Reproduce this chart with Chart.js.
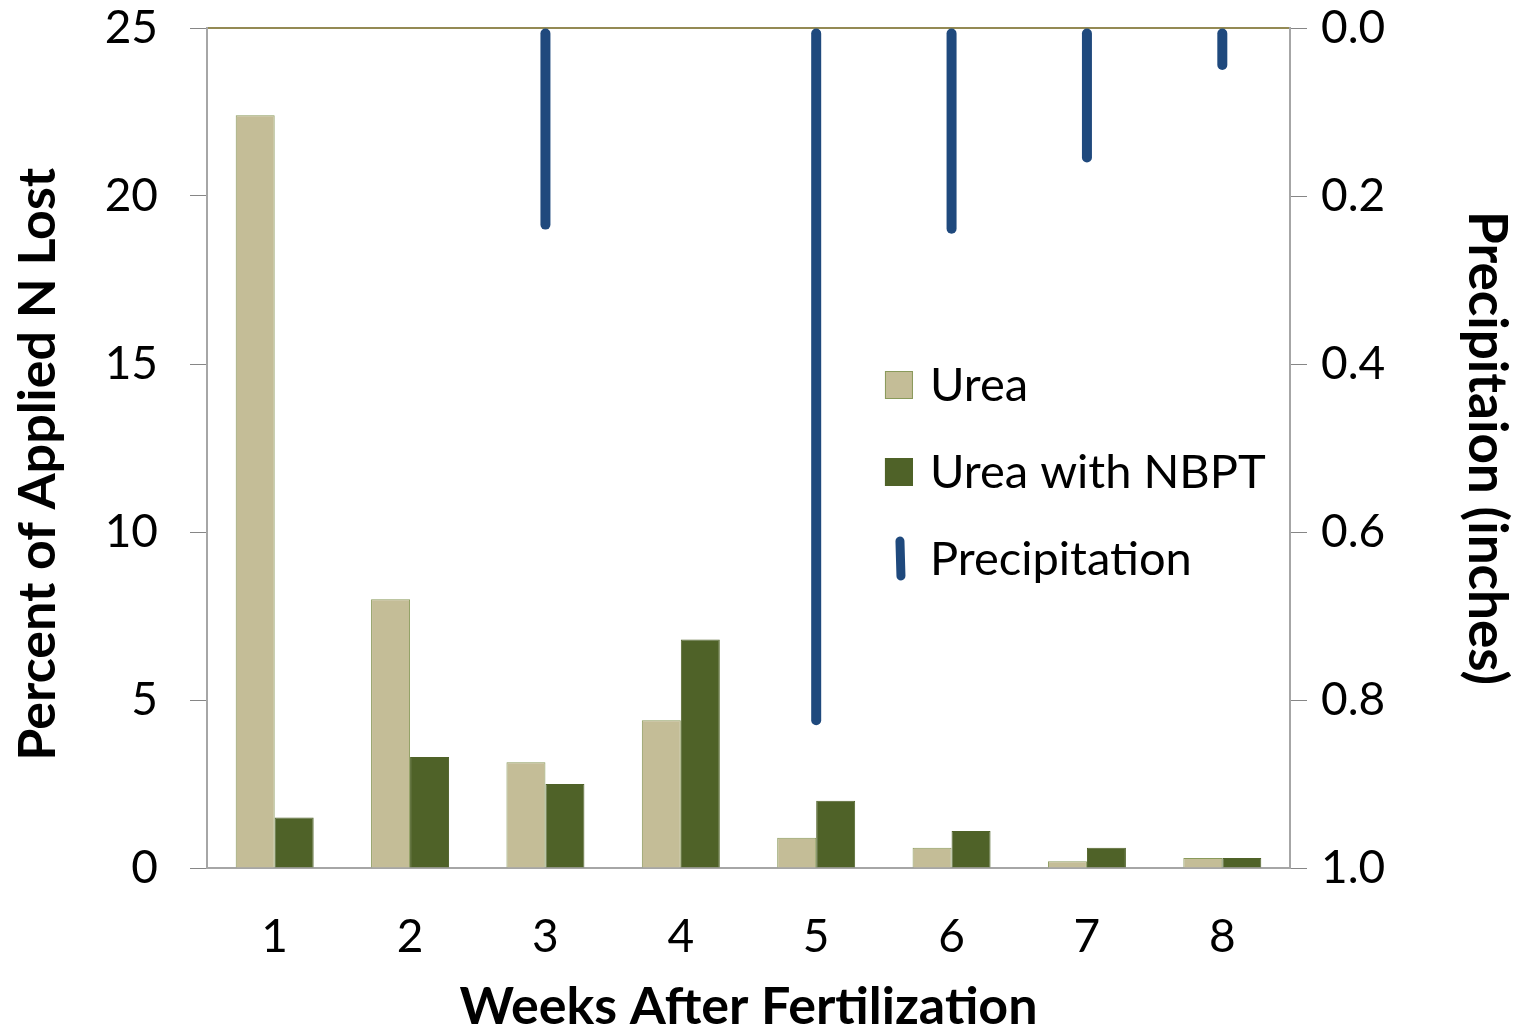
<!DOCTYPE html>
<html>
<head>
<meta charset="utf-8">
<script src="https://cdn.jsdelivr.net/npm/chart.js@4.4.0/dist/chart.umd.min.js"></script>
<style>
  html, body { margin: 0; padding: 0; background: #fff; }
  #wrap { width: 1515px; height: 1031px; position: relative; }
</style>
</head>
<body>
<div id="wrap"><canvas id="chart"></canvas></div>
<script>
// ── data ──
const weeks = ['1', '2', '3', '4', '5', '6', '7', '8'];
const ureaLoss = [22.4, 8.0, 3.15, 4.4, 0.9, 0.6, 0.2, 0.3];
const nbptLoss = [1.5, 3.3, 2.5, 6.8, 2.0, 1.1, 0.6, 0.3];
const precipInches = [0, 0, 0.24, 0, 0.83, 0.245, 0.16, 0.05];
const leftTicks = [0, 5, 10, 15, 20, 25];
const rightTicks = [0, 0.2, 0.4, 0.6, 0.8, 1.0];

const FONT = 'Lato, "Open Sans", sans-serif';
const AXIS_GRAY = '#a6a6a6';
const TICK_SIZE = 46;
const TITLE_SIZE = 52;

// legend drawn inside the plot area, next to the week 5 rain bar
const insideLegend = {
  id: 'insideLegend',
  afterDraw(chart) {
    const { ctx, chartArea } = chart;
    const x0 = chartArea.left + (chartArea.right - chartArea.left) * 0.626;
    const y0 = chartArea.top + (chartArea.bottom - chartArea.top) * 0.425;
    const gap = 87;
    ctx.save();
    ctx.font = '47px ' + FONT;
    ctx.textBaseline = 'middle';
    ctx.fillStyle = '#000';
    chart.data.datasets.forEach((ds, i) => {
      const y = y0 + i * gap;
      if (ds.yAxisID === 'y1') {
        ctx.strokeStyle = ds.backgroundColor;
        ctx.lineWidth = 9;
        ctx.lineCap = 'round';
        ctx.beginPath();
        ctx.moveTo(x0 + 15, y - 18);
        ctx.lineTo(x0 + 16, y + 17);
        ctx.stroke();
      } else {
        ctx.fillStyle = ds.backgroundColor;
        ctx.fillRect(x0, y - 14, 28, 28);
        ctx.strokeStyle = ds.borderColor;
        ctx.lineWidth = 1;
        ctx.strokeRect(x0 + 0.5, y - 13.5, 27, 27);
      }
      ctx.fillStyle = '#000';
      ctx.fillText(ds.label, x0 + 45, y + 1);
    });
    ctx.restore();
  }
};

// keep the first/last tick labels from pushing the plot area inwards
function fixVertical(width) {
  return s => { s.width = width; s.paddingTop = 20; s.paddingBottom = 20; };
}

new Chart(document.getElementById('chart'), {
  type: 'bar',
  data: {
    labels: weeks,
    datasets: [
      {
        label: 'Urea', data: ureaLoss, yAxisID: 'y', xAxisID: 'x',
        backgroundColor: '#c4bd97', borderColor: '#8a9a5b', borderWidth: 1,
        categoryPercentage: 0.576, barPercentage: 1.0, order: 1
      },
      {
        label: 'Urea with NBPT', data: nbptLoss, yAxisID: 'y', xAxisID: 'x',
        backgroundColor: '#4f6228', borderColor: '#4f6228', borderWidth: 1,
        categoryPercentage: 0.576, barPercentage: 1.0, order: 1
      },
      {
        label: 'Precipitation', data: precipInches, yAxisID: 'y1', xAxisID: 'x',
        backgroundColor: '#1f497d', grouped: false, maxBarThickness: 10,
        borderRadius: 5, borderSkipped: false, order: 0
      }
    ]
  },
  options: {
    responsive: true,
    maintainAspectRatio: false,
    animation: false,
    layout: { padding: 0 },
    plugins: { legend: { display: false }, tooltip: { enabled: false } },
    scales: {
      x: {
        position: 'bottom',
        grid: { display: false },
        border: { display: true, color: AXIS_GRAY, width: 2 },
        ticks: { color: '#000', font: { family: FONT, size: TICK_SIZE }, padding: 34 },
        title: {
          display: true, text: 'Weeks After Fertilization', color: '#000',
          font: { family: FONT, size: TITLE_SIZE, weight: 'bold', lineHeight: 0.9 },
          padding: { top: 0, bottom: 0 }
        },
        afterFit: s => { s.height = 163; }
      },
      x2: {
        position: 'top',
        grid: { display: false },
        border: { display: true, color: '#948a54', width: 2 },
        ticks: { display: false },
        afterFit: s => { s.height = 28; }
      },
      y: {
        position: 'left',
        min: 0, max: 25,
        afterBuildTicks: s => { s.ticks = leftTicks.map(v => ({ value: v })); },
        grid: { drawOnChartArea: false, drawTicks: true, tickLength: 17, color: '#868686', tickColor: '#868686' },
        border: { display: true, color: AXIS_GRAY, width: 2 },
        ticks: { color: '#000', font: { family: FONT, size: TICK_SIZE }, padding: 32 },
        title: {
          display: true, text: 'Percent of Applied N Lost\u2002\u2009', color: '#000',
          font: { family: FONT, size: TITLE_SIZE, weight: 'bold', lineHeight: 0.9 },
          padding: { top: 15, bottom: 0 }
        },
        afterFit: fixVertical(207)
      },
      y1: {
        position: 'right',
        reverse: true,
        min: 0, max: 1,
        afterBuildTicks: s => { s.ticks = rightTicks.map(v => ({ value: v })); },
        grid: { drawOnChartArea: false, drawTicks: true, tickLength: 17, color: '#868686', tickColor: '#868686' },
        border: { display: true, color: AXIS_GRAY, width: 2 },
        ticks: {
          color: '#000', font: { family: FONT, size: TICK_SIZE }, padding: 14,
          callback: v => Number(v).toFixed(1)
        },
        title: {
          display: true, text: 'Precipitaion (inches)', color: '#000',
          font: { family: FONT, size: 53, weight: 'bold', lineHeight: 0.9 },
          padding: { top: 5, bottom: 0 }
        },
        afterFit: fixVertical(225)
      }
    }
  },
  plugins: [insideLegend]
});
</script>
</body>
</html>
